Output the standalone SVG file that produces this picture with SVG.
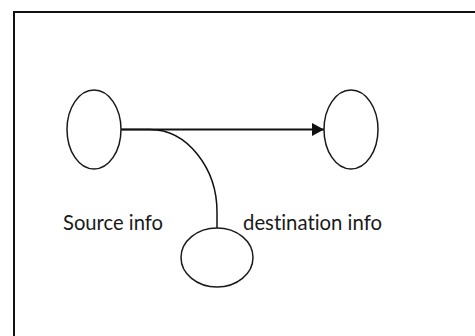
<svg xmlns="http://www.w3.org/2000/svg" width="475" height="336" viewBox="0 0 475 336">
  <style>
    .node { fill: #ffffff; stroke: #1a1a1a; stroke-width: 1.5; }
    .label { font-family: Lato, "Open Sans", "Liberation Sans", sans-serif; font-size: 20.5px; fill: #1a1a1a; font-variant-ligatures: none; }
    .edge { fill: none; stroke: #111111; }
  </style>
  <defs>
    <marker id="arrowhead" markerWidth="12" markerHeight="13" refX="12" refY="6.5" orient="auto" markerUnits="userSpaceOnUse">
      <path d="M0,0 L12,6.5 L0,13 Z" fill="#111111"/>
    </marker>
  </defs>

  <rect width="475" height="336" fill="#ffffff"/>
  <!-- frame (open to the right and bottom) -->
  <path d="M14,336 V12 H475" fill="none" stroke="#111111" stroke-width="2"/>

  <g id="connectors">
    <path class="edge" d="M121,129.5 H150 C187,129.5 217,168 217,212 V228" stroke-width="1.5"/>
    <line class="edge" x1="121" y1="129.5" x2="324" y2="129.5" stroke-width="2.2" marker-end="url(#arrowhead)"/>
  </g>

  <g id="source">
    <ellipse class="node" cx="94" cy="129.5" rx="27" ry="39.5"/>
  </g>
  <g id="destination">
    <ellipse class="node" cx="351" cy="129.5" rx="27" ry="39.5"/>
  </g>
  <g id="info">
    <ellipse class="node" cx="217" cy="257.5" rx="36" ry="29.5"/>
  </g>

  <g id="labels">
    <text class="label" x="63" y="229.5" textLength="100" lengthAdjust="spacingAndGlyphs">Source info</text>
    <text class="label" x="243" y="229.5" textLength="139" lengthAdjust="spacingAndGlyphs">destination info</text>
  </g>
</svg>
